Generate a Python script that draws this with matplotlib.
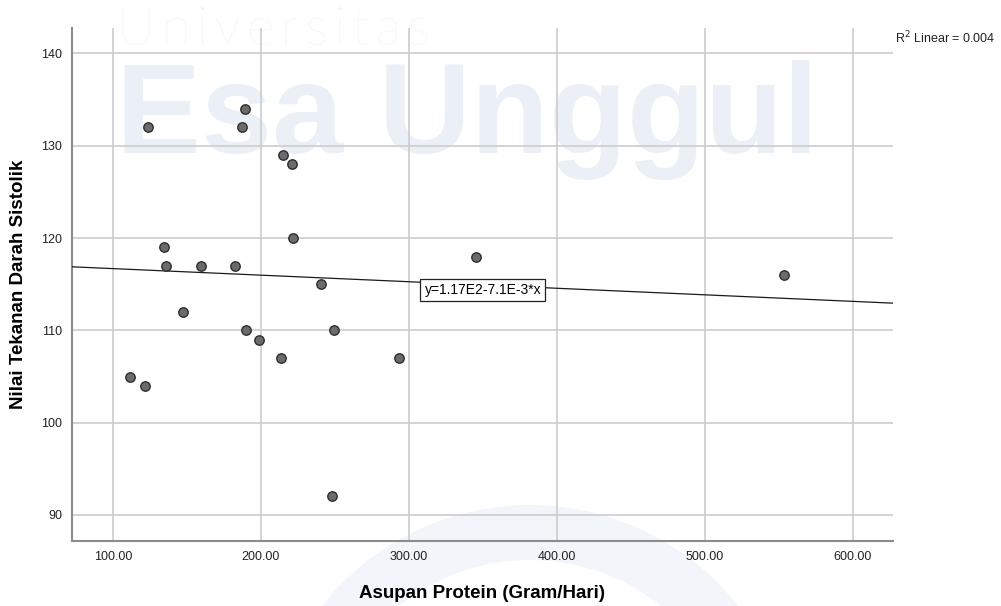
import numpy as np
import matplotlib.pyplot as plt
from matplotlib.patches import Wedge

plt.rcParams['font.family'] = ['Liberation Sans', 'DejaVu Sans']

# asupan protein (gram/hari) vs tekanan darah sistolik
protein = [111.5, 121.6, 123.4, 134.5, 135.8, 147.5, 159.5, 182.4, 187.4, 189.0, 190.1,
           198.6, 215.1, 221.0, 221.6, 213.7, 240.5, 249.5, 248.2, 293.4, 345.1, 553.2]
sistolik = [105, 104, 132, 119, 117, 112, 117, 117, 132, 134, 110,
            109, 129, 128, 120, 107, 115, 110, 92, 107, 118, 116]

# fit line coefficients (y = a + b*x)
intercept = 117.4
slope = -0.0071
fit_label = 'y=1.17E2-7.1E-3*x'
r2_label = 'R$^2$ Linear = 0.004'

xticks = [100, 200, 300, 400, 500, 600]
yticks = [90, 100, 110, 120, 130, 140]

fig = plt.figure(figsize=(10.01, 6.06), dpi=100)
fig.patch.set_facecolor('white')

# faint watermark behind the plot
fig.text(0.117, 0.926, '\u2009'.join('Universitas'), fontsize=38, color='#eef2f7',
         fontfamily=['Lato', 'DejaVu Sans'], fontweight='light', ha='left', va='baseline', zorder=-2)
fig.text(0.116, 0.748, 'Esa Unggul', fontsize=92, color='#ebf0f7', fontweight='bold',
         ha='left', va='baseline', zorder=-2)
ring = Wedge((5.3, -1.64), 2.65, 30, 160, width=0.55,
             transform=fig.dpi_scale_trans, facecolor='#f2f5f9', edgecolor='none', zorder=-2)
fig.add_artist(ring)

ax = fig.add_axes([0.0719, 0.1073, 0.8201, 0.8465])
ax.set_facecolor('none')

ax.set_xlim(72.3, 627)
ax.set_ylim(87.18, 142.76)
ax.set_xticks(xticks)
ax.set_yticks(yticks)
ax.set_xticklabels(['%.2f' % v for v in xticks])
ax.set_yticklabels([str(v) for v in yticks])
ax.tick_params(length=0, labelsize=9, colors='#222222', pad=7)

ax.grid(True, color='#cccccc', linewidth=1.2)
ax.set_axisbelow(True)
for s in ['top', 'right']:
    ax.spines[s].set_visible(False)
for s in ['left', 'bottom']:
    ax.spines[s].set_color('#8c8c8c')
    ax.spines[s].set_linewidth(1.5)

xx = np.array([72.3, 627])
ax.plot(xx, intercept + slope * xx, color='#1a1a1a', linewidth=0.9, zorder=3)
ax.text(350, 114.4, fit_label, fontsize=10, ha='center', va='center', zorder=4,
        bbox=dict(boxstyle='square,pad=0.3', facecolor='white', edgecolor='#222222', linewidth=0.9))

ax.scatter(protein, sistolik, s=46, color='#6b6b6b', edgecolors='#2e2e2e', linewidths=1.0, zorder=5)

ax.set_xlabel('Asupan Protein (Gram/Hari)', fontsize=13.5, fontweight='bold', labelpad=16)
ax.set_ylabel('Nilai Tekanan Darah Sistolik', fontsize=13.5, fontweight='bold', labelpad=10)

fig.text(0.894, 0.938, r2_label, fontsize=9, ha='left', va='center', color='#222222')

fig.savefig('out.png', dpi=100)
